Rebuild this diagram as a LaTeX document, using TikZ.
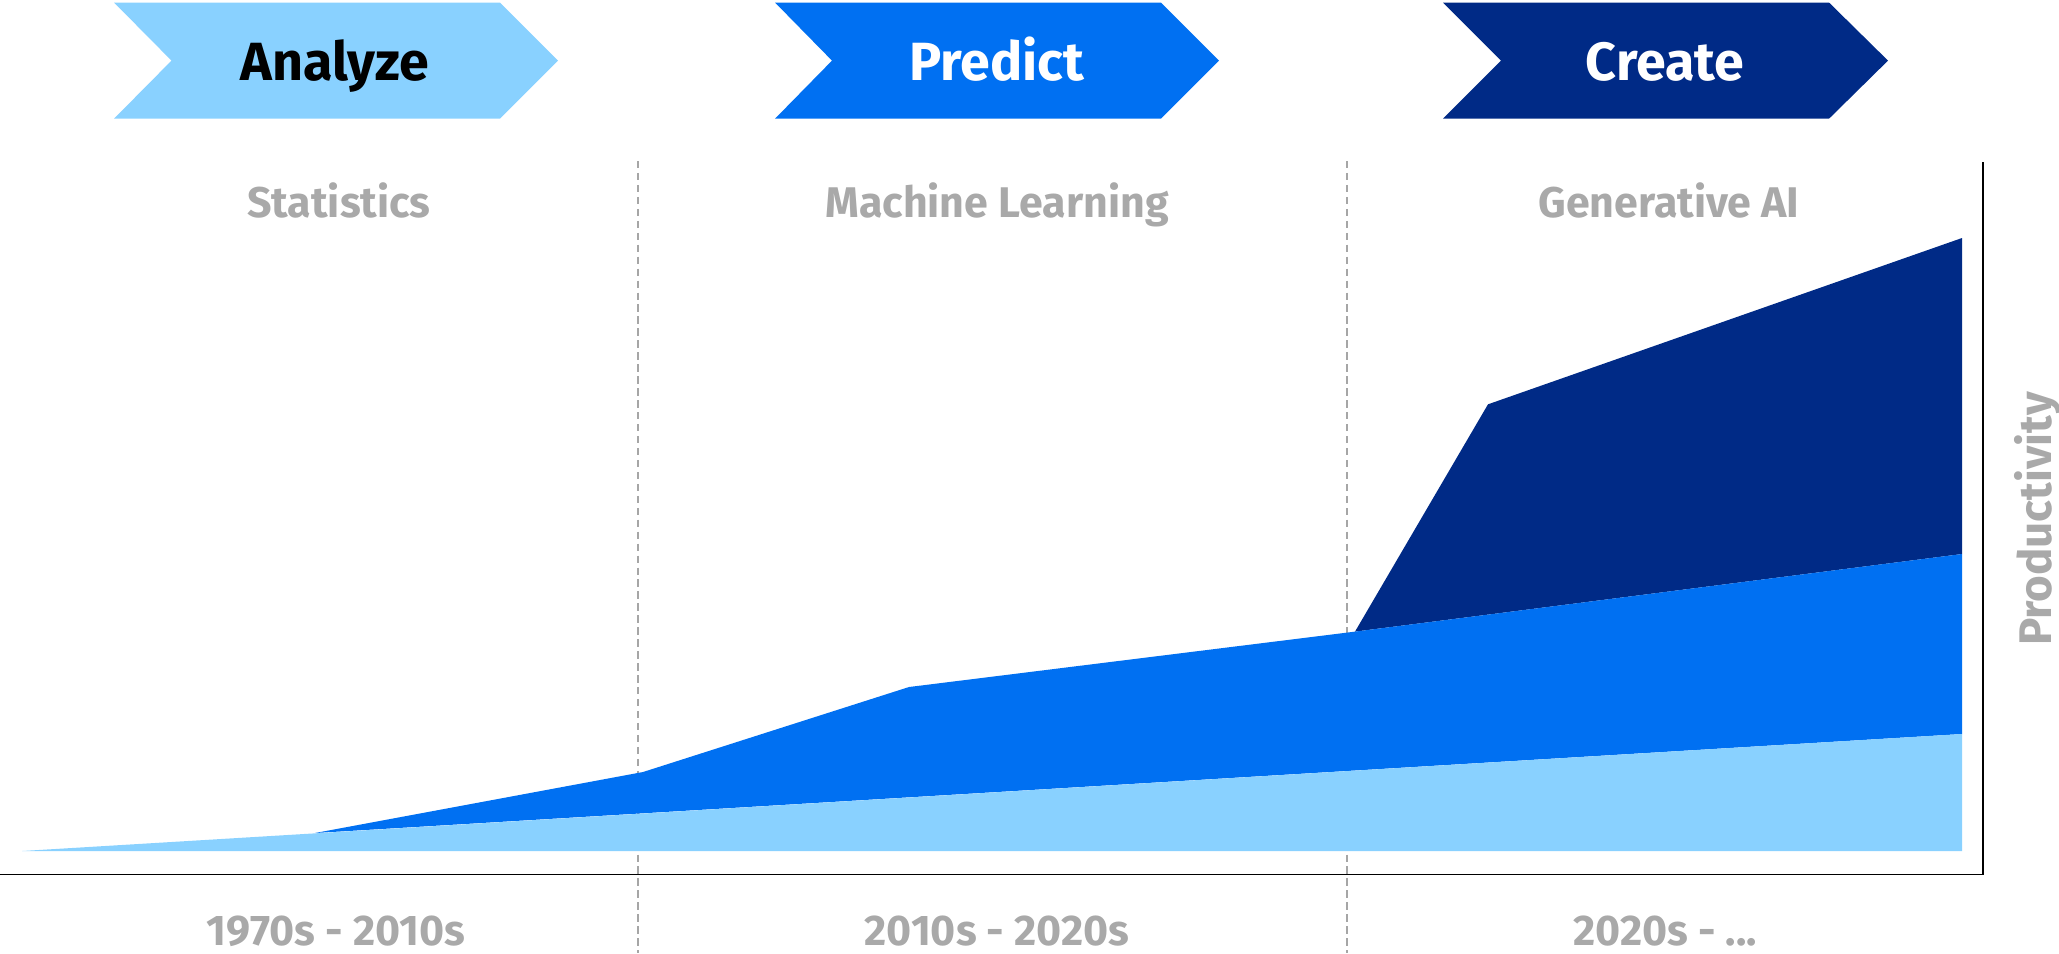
\documentclass[tikz,border=0pt]{standalone}
\usepackage{fontspec}
\setmainfont{Fira Sans}
\definecolor{lightblu}{HTML}{89D1FF}
\definecolor{midblu}{HTML}{0070F2}
\definecolor{darkblu}{HTML}{002A86}
\definecolor{graytxt}{HTML}{A9A9A9}
\definecolor{dashgray}{HTML}{A6A6A6}
\tikzset{
  chevtext/.style={anchor=base, font=\fontsize{15.3}{18}\selectfont\bfseries, inner sep=0pt},
  graylabel/.style={anchor=base, text=graytxt, font=\fontsize{12.2}{14}\selectfont\bfseries, inner sep=0pt},
  divider/.style={dashgray, line width=0.5pt, dash pattern=on 2.1pt off 1.3pt},
  axisline/.style={black, line width=0.5pt}
}
\begin{document}
\begin{tikzpicture}[x=0.01cm, y=-0.01cm]
\useasboundingbox (0,0) rectangle (2059,953);
% chevrons
\fill[lightblu] (114,2.5) -- (500,2.5) -- (558,60.6) -- (500,118.7) -- (114,118.7) -- (171.5,60.6) -- cycle;
\fill[midblu] (775,2.5) -- (1161,2.5) -- (1219,60.6) -- (1161,118.7) -- (775,118.7) -- (832,60.6) -- cycle;
\fill[darkblu] (1443,2.5) -- (1829,2.5) -- (1888,60.6) -- (1829,118.7) -- (1443,118.7) -- (1501,60.6) -- cycle;
\node[chevtext, text=black] (analyze) at (335,80) {Analyze};
\node[chevtext, text=white] (predict) at (997,80) {Predict};
\node[chevtext, text=white] (create) at (1665,80) {Create};
% era headings
\node[graylabel] (stat) at (339,217) {Statistics};
\node[graylabel] (ml) at (997,217) {Machine Learning};
\node[graylabel] (genai) at (1669,217) {Generative AI};
% dividers
\draw[divider] (638,161) -- (638,953);
\draw[divider] (1347,161) -- (1347,953);
% areas
\fill[darkblu] (1355,631.6) -- (1488,404.3) -- (1962,238) -- (1962,554) -- cycle;
\fill[midblu] (315,833) -- (643,772) -- (909,687) -- (1355,631.6) -- (1962,554) -- (1962,734) -- cycle;
\fill[lightblu] (22,851) -- (1962,734) -- (1962,851) -- cycle;
% axes
\draw[axisline] (0,874.5) -- (1983,874.5) -- (1983,161.5);
% labels
\node[graylabel] (y1) at (336,945) {1970s - 2010s};
\node[graylabel] (y2) at (997,945) {2010s - 2020s};
\node[graylabel] (y3) at (1665,945) {2020s - ...};
\node[graylabel, rotate=90, font=\fontsize{13}{15}\selectfont\bfseries] (prod) at (2051,519) {Productivity};
\end{tikzpicture}
\end{document}
